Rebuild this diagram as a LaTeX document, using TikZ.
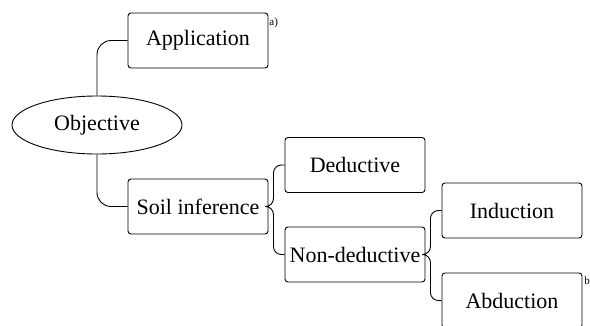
\documentclass[tikz,border=0pt]{standalone}
\usepackage{fontspec}
\setmainfont{Liberation Serif}
\usepackage{tikz}
\usetikzlibrary{shapes,positioning}
\tikzstyle{box} = [draw,rounded corners=3pt,minimum width=140pt,minimum height=55pt,inner sep=1pt,font=\fontsize{22}{26}\selectfont]
\tikzstyle{oval} = [draw,ellipse,minimum width=170pt,minimum height=58pt,inner sep=1pt,font=\fontsize{22}{26}\selectfont]
\tikzstyle{tag} = [font=\fontsize{11}{13}\selectfont,inner sep=0pt,anchor=north west]
\tikzstyle{link} = [line width=0.9pt,rounded corners=14pt]
\tikzstyle{brace} = [line width=0.9pt,rounded corners=8pt]

\begin{document}
\begin{tikzpicture}[x=1pt,y=-1pt,line width=0.9pt]
\useasboundingbox (0,0) rectangle (590,325);
% Nodes
\node[oval] (obj) at (97,125) {Objective};
\node[box] (app) at (198,40.5) {Application};
\node[box] (soil) at (198,206.5) {Soil inference};
\node[box] (ded) at (355,165) {Deductive};
\node[box] (nonded) at (355,254.5) {Non-deductive};
\node[box] (ind) at (512,210.5) {Induction};
\node[box] (abd) at (512,300.5) {Abduction};

% Tags
\node[tag] (taga) at (269,17) {a)};
\node[tag] (tagb) at (584,276) {b)};

% Links
\draw[link] (obj.north) |- (app.west);
\draw[link] (obj.south) |- (soil.west);
\draw[brace] (soil.east) -- ++(5,0) |- (ded.west);
\draw[brace] (soil.east) -- ++(5,0) |- (nonded.west);
\draw[brace] (nonded.east) -- ++(5,0) |- (ind.west);
\draw[brace] (nonded.east) -- ++(5,0) |- (abd.west);
\end{tikzpicture}
\end{document}
